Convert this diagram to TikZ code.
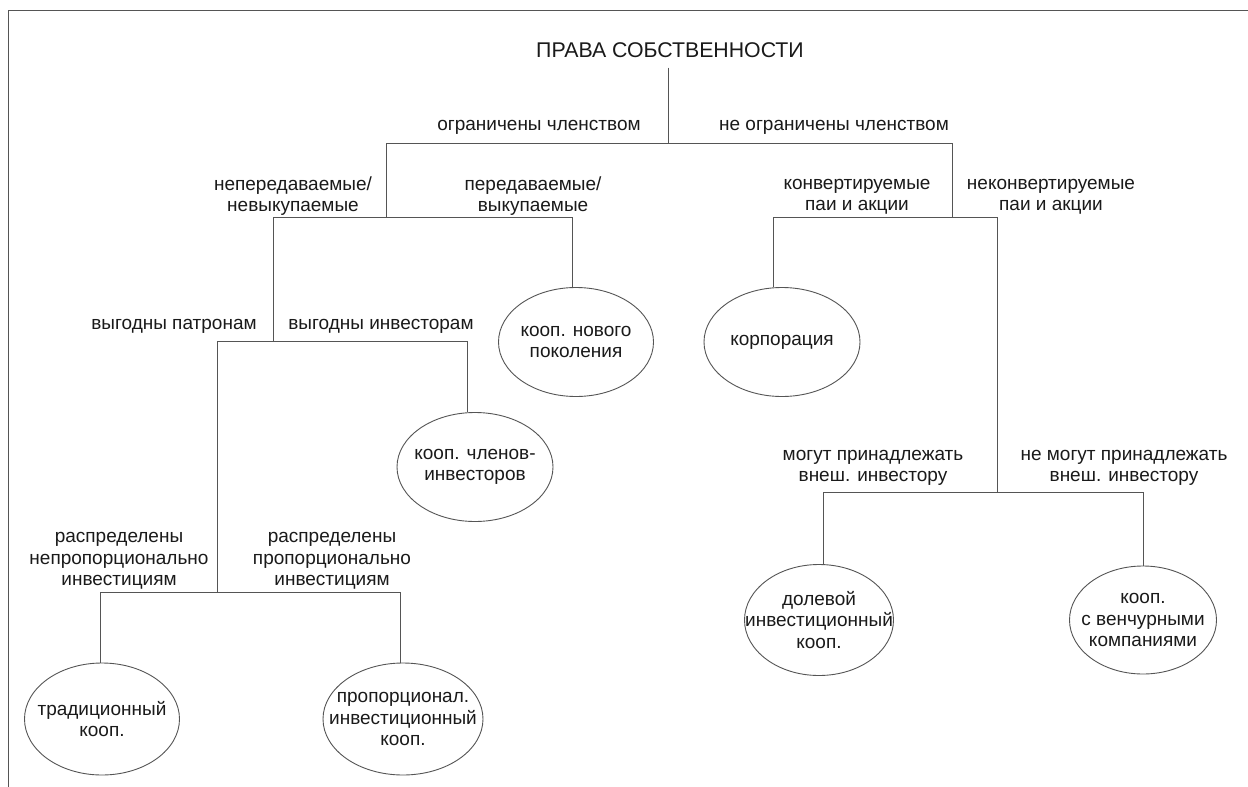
\documentclass[tikz,border=0pt]{standalone}
\usepackage{fontspec}
\setmainfont{Liberation Sans}
\usetikzlibrary{shapes.geometric}
\definecolor{ln}{HTML}{555555}
\definecolor{txt}{HTML}{1A1A1A}
\begin{document}
\begin{tikzpicture}[x=1pt,y=-1pt,
  lbl/.style={font=\fontsize{19}{21.5}\selectfont, align=center, inner sep=0pt, text=txt},
  rootst/.style={font=\fontsize{21.3}{24}\selectfont, inner xsep=0pt, inner ysep=10pt, text=txt},
  leaf/.style={ellipse, draw=ln, line width=0.9pt, inner sep=0pt},
  conn/.style={draw=ln, line width=0.9pt}]
\useasboundingbox (0,0) rectangle (1248,787);
\fill[white] (0,0) rectangle (1248,787);
% frame
\draw[conn] (8,787) -- (8,10) -- (1248,10);

% nodes
\node[rootst] (root) at (670,50) {ПРАВА СОБСТВЕННОСТИ};
\node[lbl] (lim) at (539,127) {ограничены членством};
\node[lbl] (nolim) at (834,127) {не ограничены членством};
\node[lbl] (nontr) at (293,196) {непередаваемые/\\невыкупаемые};
\node[lbl] (tr) at (533,196) {передаваемые/\\выкупаемые};
\node[lbl] (conv) at (857,197) {конвертируемые\\паи и акции};
\node[lbl] (nonconv) at (1051,197) {неконвертируемые\\паи и акции};
\node[lbl] (patr) at (174,326) {выгодны патронам};
\node[lbl] (inv) at (381,326) {выгодны инвесторам};
\node[lbl] (dispr) at (119,561) {распределены\\непропорционально\\инвестициям};
\node[lbl] (propr) at (332,561) {распределены\\пропорционально\\инвестициям};
\node[lbl] (ext) at (873,468) {могут принадлежать\\внеш. инвестору};
\node[lbl] (noext) at (1124,468) {не могут принадлежать\\внеш. инвестору};

\node[leaf, minimum width=155pt, minimum height=109pt,
  label={[lbl]center:{кооп. нового\\поколения}}] (newgen) at (576,342) {};
\node[leaf, minimum width=156pt, minimum height=109pt,
  label={[lbl]center:{корпорация}}] (corp) at (782,342) {};
\node[leaf, minimum width=156pt, minimum height=109pt,
  label={[lbl]center:{кооп. членов-\\инвесторов}}] (memb) at (475,467) {};
\node[leaf, minimum width=155pt, minimum height=112pt,
  label={[lbl]center:{традиционный\\кооп.}}] (trad) at (102,719) {};
\node[leaf, minimum width=160pt, minimum height=112pt,
  label={[lbl]center:{пропорционал.\\инвестиционный\\кооп.}}] (propc) at (403,719) {};
\node[leaf, minimum width=149pt, minimum height=111pt,
  label={[lbl]center:{долевой\\инвестиционный\\кооп.}}] (share) at (819,620) {};
\node[leaf, minimum width=147pt, minimum height=108pt,
  label={[lbl]center:{кооп.\\с венчурными\\компаниями}}] (vent) at (1143,620) {};

% junctions
\coordinate (j0) at (668,143);
\coordinate (aL) at (386,143);
\coordinate (aR) at (952,143);
\coordinate (bL) at (386,217);
\coordinate (b1) at (273,217);
\coordinate (b2) at (572,217);
\coordinate (c) at (273,341);
\coordinate (c1) at (217,341);
\coordinate (c2) at (467,341);
\coordinate (d) at (217,592);
\coordinate (d1) at (100,592);
\coordinate (d2) at (400,592);
\coordinate (e) at (952,217);
\coordinate (e1) at (773,217);
\coordinate (e2) at (997,217);
\coordinate (f) at (997,492);
\coordinate (f1) at (823,492);
\coordinate (f2) at (1143,492);

% connectors
\draw[conn] (root.south -| j0) -- (j0);
\draw[conn] (bL) -- (aL) -- (aR) -- (e);
\draw[conn] (c) -- (b1) -- (b2) -- (b2 |- newgen.north);
\draw[conn] (d) -- (c1) -- (c2) -- (c2 |- memb.north);
\draw[conn] (d1 |- trad.north) -- (d1) -- (d2) -- (d2 |- propc.north);
\draw[conn] (e1 |- corp.north) -- (e1) -- (e2) -- (f);
\draw[conn] (f1 |- share.north) -- (f1) -- (f2) -- (vent.north);
\end{tikzpicture}
\end{document}
